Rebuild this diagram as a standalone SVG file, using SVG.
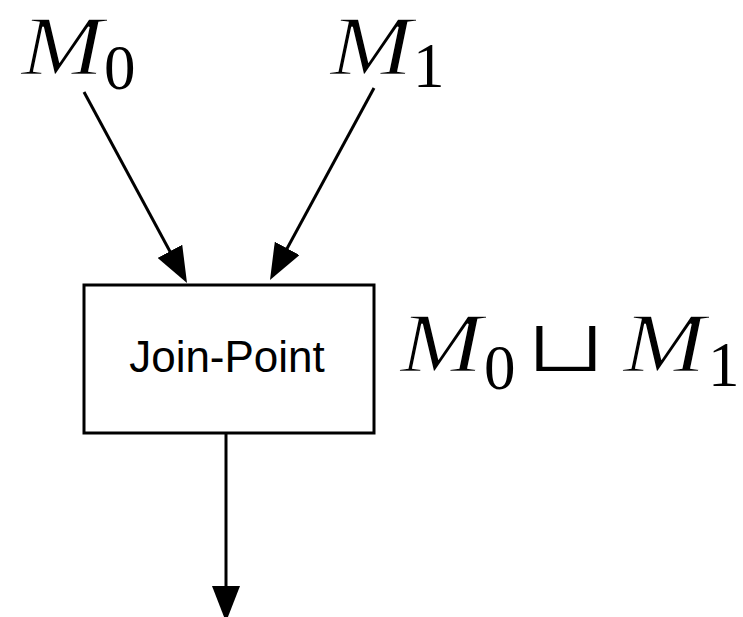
<svg xmlns="http://www.w3.org/2000/svg" width="743" height="617" viewBox="0 0 743 617">
<style>
.ln{stroke:#000;stroke-width:3;fill:none}
.box{stroke:#000;stroke-width:3;fill:#fff}
.lbl{font-family:"Liberation Sans",Arial,sans-serif;font-size:44px;fill:#000}
.mi{font-family:"Liberation Serif","Times New Roman",serif;font-style:italic;font-size:84px;fill:#000;stroke:#fff;stroke-width:1.4}
.sub{font-family:"Liberation Serif","Times New Roman",serif;font-size:63px;fill:#000}
.op{font-family:"DejaVu Sans",sans-serif;font-size:75px;fill:#000;stroke:#fff;stroke-width:2}
</style>
<defs>
<marker id="ah" markerUnits="userSpaceOnUse" markerWidth="36" markerHeight="28" refX="28" refY="14" orient="auto">
<path d="M0,0 L36,14 L0,28 z" fill="#000"/>
</marker>
</defs>
<g id="connectors">
<line class="ln" x1="84" y1="92" x2="183.2" y2="276" marker-end="url(#ah)"/>
<line class="ln" x1="374" y1="88" x2="273.8" y2="273" marker-end="url(#ah)"/>
<line class="ln" x1="226" y1="433" x2="226" y2="614" marker-end="url(#ah)"/>
</g>
<g id="m0">
<text class="mi" transform="translate(21,75) scale(1.18,1)">M</text>
<text class="sub" x="104" y="89">0</text>
</g>
<g id="m1">
<text class="mi" transform="translate(330,75) scale(1.18,1)">M</text>
<text class="sub" x="413" y="87">1</text>
</g>
<g id="join-point">
<rect class="box" x="84" y="285" width="290" height="148"/>
<text class="lbl" x="227" y="372" text-anchor="middle">Join-Point</text>
</g>
<g id="join-label">
<text class="mi" transform="translate(400,372) scale(1.18,1)">M</text>
<text class="sub" x="484" y="389">0</text>
<text class="op" text-anchor="middle" transform="translate(566,372) scale(1.46,1)">⊔</text>
<text class="mi" transform="translate(623,372) scale(1.18,1)">M</text>
<text class="sub" x="708" y="386">1</text>
</g>
</svg>
